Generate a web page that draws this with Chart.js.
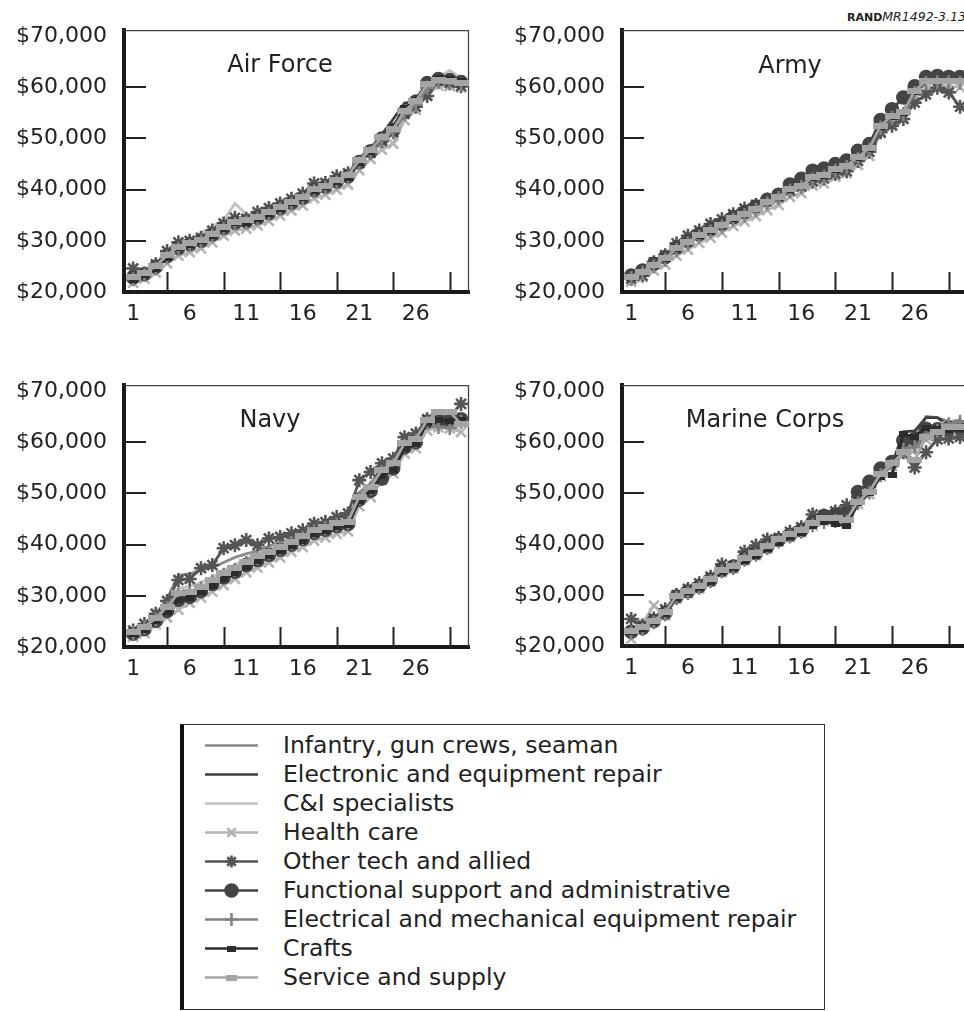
<!DOCTYPE html>
<html>
<head>
<meta charset="utf-8">
<script src="https://cdn.jsdelivr.net/npm/chart.js@4"></script>
<style>
  html, body { margin:0; padding:0; background:#fff; }
  body { width:964px; height:1011px; position:relative; overflow:hidden; font-family:"DejaVu Sans", sans-serif; color:#222; }
  canvas.panel { position:absolute; }
  .ptitle { position:absolute; font-size:24px; line-height:24px; white-space:nowrap; transform:translate(-50%,-50%); color:#222; }
  #rand { position:absolute; left:847px; top:8px; line-height:15px; white-space:nowrap; color:#222; }
  #rand b { font-weight:bold; font-size:11px; }
  #rand i { font-style:italic; font-size:12.5px; }
  #legend { position:absolute; left:180px; top:724px; width:645px; height:286px; border:1px solid #333; border-left:4px solid #111; box-sizing:border-box; }
  .lrow { position:absolute; left:0; height:29px; width:640px; }
  .lrow canvas { position:absolute; left:18px; top:4px; }
  .lrow span { position:absolute; left:99px; top:0; font-size:23.5px; line-height:29px; white-space:nowrap; color:#222; }
</style>
</head>
<body>
<div id="rand"><b>RAND</b><i>MR1492-3.13</i></div>
<canvas id="cAF" class="panel" width="480" height="340" style="left:0;top:0"></canvas>
<canvas id="cAR" class="panel" width="490" height="340" style="left:480px;top:0"></canvas>
<canvas id="cNV" class="panel" width="480" height="340" style="left:0;top:355px"></canvas>
<canvas id="cMC" class="panel" width="490" height="340" style="left:480px;top:355px"></canvas>
<div class="ptitle" style="left:280px;top:64px">Air Force</div>
<div class="ptitle" style="left:790px;top:65px">Army</div>
<div class="ptitle" style="left:270px;top:419px">Navy</div>
<div class="ptitle" style="left:765px;top:419px">Marine Corps</div>
<div id="legend"></div>
<script>
// ---------------- DATA ----------------
const years = [1,2,3,4,5,6,7,8,9,10,11,12,13,14,15,16,17,18,19,20,21,22,23,24,25,26,27,28,29,30];
const xTickLabels = [1,6,11,16,21,26];
const xTickMarks = [4,9,14,19,24,29];
const yTickLabels = [20000,30000,40000,50000,60000,70000];
const yTickMarks = [30000,40000,50000,60000];
const panelNames = ["Air Force","Army","Navy","Marine Corps"];
const seriesNames = [
  "Infantry, gun crews, seaman",
  "Electronic and equipment repair",
  "C&I specialists",
  "Health care",
  "Other tech and allied",
  "Functional support and administrative",
  "Electrical and mechanical equipment repair",
  "Crafts",
  "Service and supply"
];

// Air Force
const AF_infantry   = [23200,23900,25400,27600,29200,29900,30700,31900,33100,34200,34300,35000,36000,37000,38000,39000,40500,41200,42200,43200,46200,48300,50700,52400,55900,57700,60900,61800,61600,61300];
const AF_electronic = [22600,23400,24700,26900,28500,29300,30100,31200,32500,33500,33800,34500,35400,36400,37400,38400,39900,40600,41600,42600,45400,47500,50800,53800,56900,57200,60600,61800,61900,61600];
const AF_ci         = [22800,23600,25100,27400,29200,30300,31500,32800,34000,37300,35200,34600,35400,36300,37300,38300,39700,40500,41300,42300,45200,47200,49800,51500,55000,57000,60300,62000,63300,61800];
const AF_health     = [21800,22600,23800,25600,27100,27800,28500,29700,31000,32000,32400,33000,33900,34900,35900,36900,38300,39000,40000,41000,43800,46000,47800,49000,53600,55600,58600,60300,60200,60000];
const AF_other      = [24600,23600,25400,28000,29700,30000,30600,32000,33400,34500,34300,35600,36400,37300,38200,39200,41200,41300,42600,43200,45200,47200,49500,51200,54800,56200,58300,61300,60800,60200];
const AF_functional = [22800,23500,24900,27000,28600,29300,30000,31200,32500,33500,33800,34500,35400,36400,37400,38400,39900,40600,41600,42600,45400,47500,50000,51700,55200,57200,60800,61600,61400,61000];
const AF_electrical = [22500,23300,24600,26800,28400,29100,29900,31000,32300,33300,33600,34300,35200,36200,37200,38200,39700,40400,41400,42400,45100,47200,49700,51300,54800,56600,59900,61000,60800,60500];
const AF_crafts     = [22400,23300,24500,26700,28600,29200,30000,31000,32400,33400,33500,34200,35200,36300,37300,38300,39800,40500,41500,42300,45300,47400,50200,52300,56000,57500,60700,61800,61600,61300];
const AF_service    = [22900,23700,25000,27200,28800,29500,30200,31400,32700,33700,34000,34700,35600,36600,37600,38600,40200,40800,41800,42800,45700,47800,50200,51900,55400,57300,60600,61500,61200,60900];

// Army
const AR_infantry   = [23300,24300,25600,26900,28800,30100,31400,32400,33400,34700,35600,36600,37900,38900,40400,41200,42700,43200,44400,45100,46700,48400,52800,54700,55600,59800,61600,61600,61500,61600];
const AR_electronic = [22800,23700,25000,26300,28200,29500,30800,31800,32800,34100,35000,36000,37300,38300,39900,40600,42100,42600,43800,44500,46000,47800,52000,53900,55000,58800,61000,61200,61100,61000];
const AR_ci         = [23100,24100,25500,26800,28700,30000,31300,32300,33300,34600,35500,36500,37800,38800,40300,41000,42500,43000,44200,44900,46500,48300,52600,54500,55600,59500,61500,61600,61700,61500];
const AR_health     = [22000,22900,24200,25400,27100,28300,29600,30600,31600,32900,33800,34800,36000,37000,38600,39300,40800,41200,42500,43200,44800,46600,51000,52800,54000,57800,59800,60200,60300,60000];
const AR_other      = [22600,23200,25800,27200,29500,31000,32000,33300,34200,35200,36300,37000,38000,38600,39800,40600,41600,42200,43100,43600,45600,47400,51200,52500,53800,57000,58600,59900,59000,56200];
const AR_functional = [23200,24200,25500,26800,28700,30000,31300,32300,33300,34600,35600,36700,38000,39000,41000,42100,43700,44100,45000,45700,47600,48900,53600,55700,58000,60200,62000,62200,62000,62000];
const AR_electrical = [22700,23700,25000,26300,28200,29500,30800,31800,32800,34100,35000,36000,37300,38300,39800,40500,42000,42500,43700,44400,46000,47800,52100,54000,54800,58900,60900,61000,61000,60900];
const AR_crafts     = [22900,23900,25200,26500,28400,29700,31000,32000,33000,34300,35200,36200,37500,38500,40000,40700,42200,42700,43900,44600,46200,48000,52300,54200,55000,59100,61200,61300,61200,61200];
const AR_service    = [23000,24000,25300,26600,28500,29800,31100,32100,33100,34400,35300,36300,37600,38600,40200,40800,42400,42800,44100,44700,46300,48100,52500,54400,55100,59300,61300,61300,61300,61300];

// Navy
const NV_infantry   = [23200,24300,26000,29500,34000,34300,35000,35500,36500,37500,38200,38800,39700,40400,41200,42100,43300,43900,44600,45000,50200,52000,55000,56400,60300,61200,64800,65500,65300,64500];
const NV_electronic = [22700,23600,25100,27100,29300,29900,31000,32200,33500,34500,35800,36800,37800,38800,39800,40800,42100,42800,43500,43900,48700,50600,53800,55200,59000,60000,63800,64400,64700,64500];
const NV_ci         = [23100,24200,25800,28300,31500,31800,32600,33700,35000,36000,37300,38200,39100,40000,41000,41900,43200,43800,44600,45000,49000,51000,54300,55600,59400,60500,63900,64500,64500,64000];
const NV_health     = [22000,22700,24400,25800,27300,28600,29700,30800,32100,33300,34600,35500,36500,37500,38600,39500,40800,41400,42100,42600,47500,49300,52600,53900,57800,58800,62300,62900,62700,62000];
const NV_other      = [23200,24500,26500,29000,33100,33300,35400,36000,39300,39900,40900,39900,41200,41500,42200,42800,44100,44400,45400,46100,52600,54200,55900,56800,61000,61700,64500,64500,65000,67500];
const NV_functional = [22600,23500,25100,27000,29200,29800,30900,32300,33600,34700,36000,37000,38000,39000,40000,41100,42300,42900,43600,44000,48800,50500,52900,54900,59000,60000,64000,64200,64000,64500];
const NV_electrical = [22800,23800,25400,27600,30200,30500,31500,32800,34100,35100,36400,37400,38300,39300,40300,41300,42600,43200,43900,44200,49000,51000,54200,55500,59300,60300,63800,63000,62800,64000];
const NV_crafts     = [22500,23400,25000,26800,29100,29600,30700,32000,33300,34400,35700,36800,37800,38800,39800,40800,42100,42600,43400,43800,48600,50400,53500,54600,58700,59600,63800,64300,64200,64300];
const NV_service    = [23000,24000,25600,27900,30500,30800,31800,33100,34400,35400,36700,37700,38600,39600,40600,41600,42900,43500,44200,44500,49400,51300,54600,55900,59800,60700,64300,66000,66000,63500];

// Marine Corps
const MC_infantry   = [23200,23900,25300,26900,30100,31100,32100,33400,35300,36000,37600,38600,39900,41200,42200,43100,44400,45400,45500,45300,48800,51000,54300,56300,59000,61000,65000,64800,64000,64300];
const MC_electronic = [22900,23500,24800,26400,29600,30600,31600,32900,34800,35500,37100,38100,39400,40700,41700,42600,43900,44800,44700,44200,47900,50000,53500,55500,62000,62200,64800,64800,63200,63500];
const MC_ci         = [23100,23800,25100,26700,29900,30900,31900,33200,35100,35800,37400,38400,39700,41000,42000,42900,44200,45200,45300,45100,48500,50500,54000,56000,58500,60000,62500,63500,64000,63800];
const MC_health     = [21400,24500,27900,26000,29300,30300,31300,32600,34500,35200,36800,37800,39100,40400,41400,42300,43600,44600,44600,44300,47800,49800,53300,55300,57500,58500,60500,61500,62000,62200];
const MC_other      = [25300,24000,25400,27200,30000,31200,32300,33600,36000,35600,38500,39700,40900,41200,42400,43300,45800,45600,46400,47600,49200,51200,54200,56000,58000,55000,58000,60500,60700,61000];
const MC_functional = [22800,23500,24900,26500,29700,30700,31700,33000,34900,35600,37200,38200,39500,40800,41800,42700,44300,45500,45800,46000,50200,52200,54800,56100,60300,60600,62600,62500,62800,63000];
const MC_electrical = [22600,23300,24600,26200,29400,30400,31400,32700,34600,35300,36900,37900,39200,40500,41500,42400,43700,44300,44500,44400,48000,50100,53500,55300,58500,59000,61500,62200,63500,64000];
const MC_crafts     = [22700,23400,24700,26300,29500,30500,31400,32600,34500,35200,36600,37600,39000,40200,41300,42200,43600,44400,44000,43500,48000,50000,53200,53500,61500,61000,62800,62600,62300,62600];
const MC_service    = [23000,23700,25000,26600,29800,30800,31800,33100,35000,35700,37300,38300,39600,40900,41900,42800,44100,45100,45100,44800,48300,50300,53800,55800,58000,56500,61000,62000,62900,62900];

// ---------------- STYLES ----------------
function rectImg(w, h, color) {
  const c = document.createElement('canvas'); c.width = w; c.height = h;
  const g = c.getContext('2d'); g.fillStyle = color; g.fillRect(0, 0, w, h); return c;
}
const seriesStyles = [
  { color:'#8a8a8a', point:false },
  { color:'#3d3d3d', point:false },
  { color:'#c3c3c3', point:false },
  { color:'#b4b4b4', point:'crossRot', radius:7, lg:6 },
  { color:'#555555', point:'star', radius:7, lg:6 },
  { color:'#444444', point:'circle', radius:6, lg:6 },
  { color:'#828282', point:'cross', radius:7, lg:6.5 },
  { color:'#2c2c2c', point:rectImg(9,6,'#2c2c2c'), lgImg:rectImg(9,6,'#2c2c2c') },
  { color:'#a4a4a4', point:rectImg(15,6,'#a4a4a4'), lgImg:rectImg(11,6,'#a4a4a4') }
];

const panelSeries = [
  [AF_infantry,AF_electronic,AF_ci,AF_health,AF_other,AF_functional,AF_electrical,AF_crafts,AF_service],
  [AR_infantry,AR_electronic,AR_ci,AR_health,AR_other,AR_functional,AR_electrical,AR_crafts,AR_service],
  [NV_infantry,NV_electronic,NV_ci,NV_health,NV_other,NV_functional,NV_electrical,NV_crafts,NV_service],
  [MC_infantry,MC_electronic,MC_ci,MC_health,MC_other,MC_functional,MC_electrical,MC_crafts,MC_service]
];

const FONT = "DejaVu Sans";
const framePlugin = {
  id: 'frameTicks',
  beforeDatasetsDraw(chart) {
    const { ctx, chartArea: a, scales: { x, y } } = chart;
    ctx.save();
    ctx.strokeStyle = '#444'; ctx.lineWidth = 1.3;
    ctx.beginPath();
    ctx.moveTo(a.left, a.top + 0.5); ctx.lineTo(a.right - 0.5, a.top + 0.5); ctx.lineTo(a.right - 0.5, a.bottom);
    ctx.stroke();
    ctx.strokeStyle = '#222'; ctx.lineWidth = 2;
    yTickMarks.forEach(v => { const py = Math.round(y.getPixelForValue(v)); ctx.beginPath(); ctx.moveTo(a.left, py); ctx.lineTo(a.left + 22, py); ctx.stroke(); });
    xTickMarks.forEach(v => { const px = Math.round(x.getPixelForValue(v)) + 0.5; ctx.beginPath(); ctx.moveTo(px, a.bottom); ctx.lineTo(px, a.bottom - 20); ctx.stroke(); });
    ctx.restore();
  }
};

function makePanel(canvasId, seriesArr, layoutCfg) {
  const datasets = seriesArr.map((vals, i) => {
    const st = seriesStyles[i];
    return {
      label: seriesNames[i],
      data: years.map((yr, k) => ({ x: yr, y: vals[k] })),
      borderColor: st.color,
      backgroundColor: st.color,
      borderWidth: 2.8,
      pointStyle: st.point || 'circle',
      pointRadius: st.point ? (st.radius || 7) : 0,
      pointBorderWidth: 2.6,
      pointBackgroundColor: st.color,
      pointBorderColor: st.color,
      tension: 0,
      order: 8 - i,
      clip: { left: 8, top: 8, right: 0, bottom: 8 }
    };
  });
  return new Chart(document.getElementById(canvasId), {
    type: 'line',
    data: { datasets },
    plugins: [framePlugin],
    options: {
      responsive: false, animation: false, devicePixelRatio: 1,
      events: [],
      layout: { autoPadding: false, padding: { left: 0, right: layoutCfg.pr, top: layoutCfg.pt, bottom: 0 } },
      plugins: { legend: { display: false }, tooltip: { enabled: false }, title: { display: false } },
      scales: {
        x: {
          type: 'linear', min: 0.19, max: 30.7,
          afterFit: s => { s.height = layoutCfg.xh; },
          afterBuildTicks: s => { s.ticks = xTickLabels.map(v => ({ value: v })); },
          ticks: { autoSkip: false, maxRotation: 0, padding: 9, color: '#222', font: { family: FONT, size: 22 }, callback: v => String(v) },
          grid: { display: false, drawTicks: false },
          border: { display: true, width: 4, color: '#1a1a1a' }
        },
        y: {
          type: 'linear', min: 20000, max: 71150,
          afterFit: s => { s.width = layoutCfg.yw; },
          afterBuildTicks: s => { s.ticks = yTickLabels.map(v => ({ value: v })); },
          ticks: { autoSkip: false, padding: 17, color: '#222', font: { family: FONT, size: 22 }, callback: v => '$' + Number(v).toLocaleString('en-US') },
          grid: { display: false, drawTicks: false },
          border: { display: true, width: 4, color: '#1a1a1a' }
        }
      }
    }
  });
}

makePanel('cAF', panelSeries[0], { pr: 11, pt: 29, xh: 48, yw: 124 });
makePanel('cAR', panelSeries[1], { pr: 2,  pt: 29, xh: 48, yw: 142 });
makePanel('cNV', panelSeries[2], { pr: 11, pt: 29, xh: 48, yw: 124 });
makePanel('cMC', panelSeries[3], { pr: 2,  pt: 28, xh: 49, yw: 142 });

// ---------------- LEGEND ----------------
const legend = document.getElementById('legend');
const rowCenters = [745, 774, 803, 832, 861, 890, 919, 948, 977];
seriesNames.forEach((name, i) => {
  const st = seriesStyles[i];
  const row = document.createElement('div');
  row.className = 'lrow';
  row.style.top = (rowCenters[i] - 14.5 - 725) + 'px';
  const cv = document.createElement('canvas');
  cv.width = 60; cv.height = 21;
  const g = cv.getContext('2d');
  g.strokeStyle = st.color; g.fillStyle = st.color; g.lineWidth = 2.6;
  g.beginPath(); g.moveTo(3, 10.5); g.lineTo(56, 10.5); g.stroke();
  if (st.point) {
    const style = st.lgImg || st.point;
    if (Chart.helpers && Chart.helpers.drawPoint) {
      Chart.helpers.drawPoint(g, { pointStyle: style, radius: st.lg || 5, rotation: 0, borderWidth: 2.5 }, 29.5, 10.5);
    }
  }
  row.appendChild(cv);
  const sp = document.createElement('span');
  sp.textContent = name;
  row.appendChild(sp);
  legend.appendChild(row);
});
</script>
</body>
</html>
